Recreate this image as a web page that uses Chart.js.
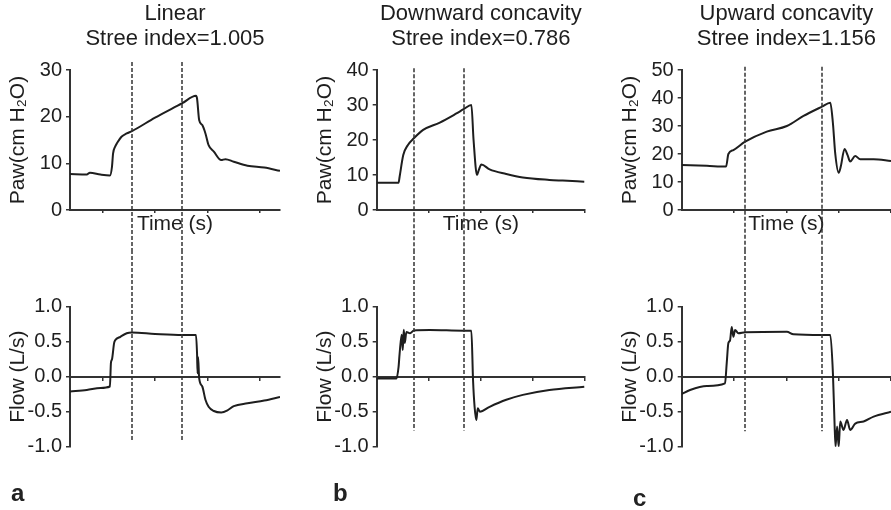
<!DOCTYPE html>
<html>
<head>
<meta charset="utf-8">
<script src="https://cdn.jsdelivr.net/npm/chart.js@4.4.1/dist/chart.umd.min.js"></script>
<style>
  body { margin: 0; background: #fff; }
  #fig { position: relative; width: 891px; height: 510px; overflow: hidden; font-family: 'Liberation Sans', Arial, sans-serif; }
  #fig canvas { position: absolute; }
  .tag { position: absolute; font-weight: bold; font-size: 24px; line-height: 24px; color: #222; }
</style>
</head>
<body>
<div id="fig">
  <canvas id="pawA" width="297" height="250" style="left:0;top:0"></canvas>
  <canvas id="flowA" width="297" height="260" style="left:0;top:250px"></canvas>
  <canvas id="pawB" width="297" height="250" style="left:297px;top:0"></canvas>
  <canvas id="flowB" width="297" height="260" style="left:297px;top:250px"></canvas>
  <canvas id="pawC" width="297" height="250" style="left:594px;top:0"></canvas>
  <canvas id="flowC" width="297" height="260" style="left:594px;top:250px"></canvas>
  <div class="tag" style="left:11px;top:481px">a</div>
  <div class="tag" style="left:333px;top:481px">b</div>
  <div class="tag" style="left:633px;top:486px">c</div>
</div>
<script>
// panel titles
const titleA = ['Linear', 'Stree index=1.005'];
const titleB = ['Downward concavity', 'Stree index=0.786'];
const titleC = ['Upward concavity', 'Stree index=1.156'];

// time axis (s), each panel shows a 2 s window
const startA = 0.19;
const startB = 0;
const startC = 0;
const timeTicks = [0.5, 1.0, 1.5, 2.0];

// y tick values
const pawTicksA = [0, 10, 20, 30];
const pawTicksB = [0, 10, 20, 30, 40];
const pawTicksC = [0, 10, 20, 30, 40, 50];
const flowTicks = [-1.0, -0.5, 0.0, 0.5, 1.0];

// a: linear
const timeA = [0.19, 0.35, 0.38, 0.48, 0.57, 0.59, 0.60, 0.62, 0.64, 0.68, 0.73, 0.78, 1.00, 1.26, 1.39, 1.40, 1.42, 1.45, 1.48, 1.51, 1.56, 1.63, 1.67, 1.75, 1.88, 2.04, 2.19];
const pawA = [7.7, 7.6, 8.0, 7.6, 7.4, 9.3, 12.1, 13.6, 14.4, 15.7, 16.4, 16.9, 19.8, 22.9, 24.5, 23.9, 19.3, 18.2, 16.4, 13.9, 12.5, 10.7, 10.9, 10.35, 9.5, 9.1, 8.4];
const flowTimeA = [0.19, 0.35, 0.48, 0.57, 0.58, 0.59, 0.61, 0.62, 0.67, 0.73, 0.78, 1.00, 1.26, 1.39, 1.40, 1.405, 1.41, 1.42, 1.45, 1.48, 1.51, 1.56, 1.63, 1.69, 1.75, 1.88, 2.04, 2.19];
const flowA = [-0.21, -0.19, -0.16, -0.14, 0.2, 0.25, 0.48, 0.52, 0.57, 0.62, 0.63, 0.61, 0.595, 0.595, 0.33, 0.05, 0.28, -0.02, -0.14, -0.33, -0.43, -0.49, -0.51, -0.48, -0.42, -0.38, -0.34, -0.29];

// b: downward concavity
const timeB = [0, 0.21, 0.22, 0.255, 0.30, 0.357, 0.446, 0.606, 0.766, 0.835, 0.909, 0.93, 0.963, 0.98, 1.005, 1.084, 1.244, 1.403, 1.658, 1.786, 1.993];
const pawB = [7.8, 7.8, 9.5, 15.7, 18.6, 20.5, 22.9, 25.0, 27.6, 28.8, 30.0, 20.0, 10.0, 11.4, 13.0, 11.6, 10.3, 9.3, 8.6, 8.4, 8.1];
const flowTimeB = [0, 0.19, 0.21, 0.22, 0.24, 0.25, 0.26, 0.27, 0.285, 0.32, 0.357, 0.51, 0.83, 0.909, 0.925, 0.94, 0.957, 0.97, 0.99, 1.084, 1.244, 1.403, 1.658, 1.993];
const flowB = [-0.024, -0.024, 0.14, 0.33, 0.6, 0.38, 0.67, 0.48, 0.64, 0.62, 0.66, 0.667, 0.657, 0.657, -0.047, -0.43, -0.62, -0.45, -0.5, -0.43, -0.33, -0.26, -0.19, -0.143];

// c: upward concavity
const timeC = [0, 0.24, 0.424, 0.446, 0.494, 0.606, 0.813, 1.005, 1.164, 1.34, 1.42, 1.445, 1.467, 1.50, 1.52, 1.556, 1.585, 1.61, 1.658, 1.706, 1.834, 2.0];
const pawC = [16.1, 15.8, 15.5, 20.0, 21.4, 24.4, 28.0, 30.0, 33.6, 36.9, 38.3, 31.0, 20.2, 13.3, 15.5, 21.8, 19.6, 17.3, 19.3, 18.1, 18.1, 17.5];
const flowTimeC = [0, 0.08, 0.24, 0.414, 0.43, 0.446, 0.462, 0.478, 0.494, 0.51, 0.542, 0.606, 1.005, 1.068, 1.34, 1.42, 1.445, 1.46, 1.47, 1.485, 1.50, 1.515, 1.546, 1.58, 1.61, 1.658, 1.738, 1.834, 2.0];
const flowC = [-0.247, -0.19, -0.133, -0.095, 0.19, 0.48, 0.52, 0.71, 0.57, 0.667, 0.62, 0.634, 0.643, 0.605, 0.595, 0.595, 0.048, -0.64, -1.0, -0.71, -1.0, -0.64, -0.76, -0.62, -0.76, -0.67, -0.64, -0.57, -0.5];

// dashed markers: times, top end (Paw units), bottom end (flow units)
const dashA = [0.78, 1.26];
const dashB = [0.357, 0.835];
const dashC = [0.606, 1.34];
const dashTop = [31.7, 40.5, 51.2];
const dashBottom = [-0.91, -0.77, -0.78];

const INK = '#1e1e1e';
const AXIS = '#333';
const FONT = "'Liberation Sans', Arial, sans-serif";
const WINDOW = 2.0;

const pts = (xs, ys) => xs.map((x, i) => ({ x, y: ys[i] }));

const dashMarks = {
  id: 'dashMarks',
  afterDraw(chart, args, opts) {
    const { ctx, scales: { x, y } } = chart;
    const y0 = opts.from !== undefined ? y.getPixelForValue(opts.from) : 0;
    const y1 = opts.to !== undefined ? y.getPixelForValue(opts.to) : chart.height;
    ctx.save();
    ctx.strokeStyle = '#333';
    ctx.lineWidth = 1.5;
    ctx.setLineDash([4, 2]);
    opts.at.forEach((t) => {
      const px = Math.round(x.getPixelForValue(t));
      ctx.beginPath();
      ctx.moveTo(px, y0);
      ctx.lineTo(px, y1);
      ctx.stroke();
    });
    ctx.restore();
  },
};

function xScale(start, extra) {
  return Object.assign({
    type: 'linear',
    min: start,
    max: start + WINDOW,
    afterBuildTicks: (s) => { s.ticks = timeTicks.filter((v) => v > start).map((v) => ({ value: v })); },
    ticks: { display: false },
    grid: { drawOnChartArea: false, tickLength: 3, color: AXIS, lineWidth: 1.5 },
    border: { color: AXIS, width: 2 },
  }, extra);
}

function yScale(min, max, ticks, label, fmt) {
  return {
    min,
    max,
    afterBuildTicks: (s) => { s.ticks = ticks.map((v) => ({ value: v })); },
    afterFit: (s) => { s.width = 62; },
    ticks: { font: { family: FONT, size: 20 }, color: INK, padding: 4, callback: fmt },
    grid: { drawOnChartArea: false, tickLength: 4, color: AXIS, lineWidth: 1.5 },
    border: { color: AXIS, width: 2 },
    title: { display: true, text: label, color: INK, font: { family: FONT, size: 21, lineHeight: 1 }, padding: 0 },
  };
}

function trace(xs, ys) {
  return {
    data: pts(xs, ys), borderColor: INK, borderWidth: 2, pointRadius: 0,
    cubicInterpolationMode: 'monotone', fill: false,
  };
}

function pawChart(id, padLeft, padRight, title, xs, ys, start, ticks, dash, top) {
  return new Chart(document.getElementById(id), {
    type: 'line',
    data: { datasets: [trace(xs, ys)] },
    options: {
      responsive: false,
      animation: false,
      layout: { padding: { left: padLeft, right: padRight, top: 0, bottom: 10 } },
      plugins: {
        legend: { display: false },
        tooltip: { enabled: false },
        title: {
          display: true, text: title, fullSize: false, color: INK,
          font: { family: FONT, size: 22, weight: 'normal', lineHeight: 1.16 },
          padding: { top: 1, bottom: 18 },
        },
        dashMarks: { at: dash, from: top },
      },
      scales: {
        x: xScale(start, {
          afterFit: (s) => { s.height = 30; },
          title: { display: true, text: 'Time (s)', color: INK, font: { family: FONT, size: 21 }, padding: { top: 0, bottom: 3 } },
        }),
        y: yScale(0, ticks[ticks.length - 1], ticks, 'Paw(cm H\u2082O)', (v) => v),
      },
    },
    plugins: [dashMarks],
  });
}

function flowChart(id, padLeft, padRight, xs, ys, start, dash, bottom) {
  return new Chart(document.getElementById(id), {
    type: 'line',
    data: { datasets: [trace(xs, ys)] },
    options: {
      responsive: false,
      animation: false,
      layout: { padding: { left: padLeft, right: padRight, top: 56.7, bottom: 63.3 } },
      plugins: {
        legend: { display: false },
        tooltip: { enabled: false },
        dashMarks: { at: dash, to: bottom },
      },
      scales: {
        x: xScale(start, { position: { y: 0 } }),
        y: yScale(-1, 1, flowTicks, 'Flow (L/s)', (v) => v.toFixed(1)),
      },
    },
    plugins: [dashMarks],
  });
}

// column a: plot 70..280, column b: 376.7..585, column c: 681.7..891
pawChart('pawA', 8, 17, titleA, timeA, pawA, startA, pawTicksA, dashA, dashTop[0]);
flowChart('flowA', 8, 17, flowTimeA, flowA, startA, dashA, dashBottom[0]);
pawChart('pawB', 17.7, 9, titleB, timeB, pawB, startB, pawTicksB, dashB, dashTop[1]);
flowChart('flowB', 17.7, 9, flowTimeB, flowB, startB, dashB, dashBottom[1]);
pawChart('pawC', 25.7, 0, titleC, timeC, pawC, startC, pawTicksC, dashC, dashTop[2]);
flowChart('flowC', 25.7, 0, flowTimeC, flowC, startC, dashC, dashBottom[2]);
</script>
</body>
</html>
